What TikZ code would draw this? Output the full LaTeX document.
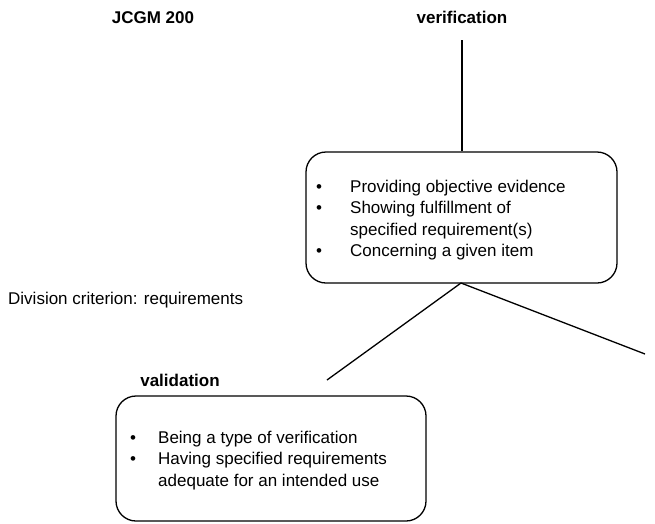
\documentclass[tikz,border=0pt]{standalone}
\usepackage{fontspec}
\setmainfont{Liberation Sans}
\usepackage{array}
\begin{document}
\begin{tikzpicture}[x=1pt,y=-1pt,
  txt/.style={font=\fontsize{17}{21.5}\selectfont, inner sep=0pt},
  ttl/.style={font=\fontsize{17}{21.5}\selectfont\bfseries, inner sep=0pt},
  concept/.style={draw, line width=1.3pt, rounded corners=20pt, inner sep=0pt},
  link/.style={line width=1.3pt}]
\useasboundingbox (0,0) rectangle (655,523);

% headings
\node[ttl, anchor=base] (std) at (153,23) {JCGM 200};
\node[ttl, anchor=base] (ver) at (462,23) {verification};

% concept box for verification
\node[concept, minimum width=311pt, minimum height=131pt] (vbox) at (461.5,217.5) {};
\node[txt, anchor=base west] (vtext) at (316,192) {%
  \begin{tabular}[t]{@{}p{34pt}@{}l@{}}
  \textbullet & Providing objective evidence\\
  \textbullet & Showing fulfillment of\\
              & specified requirement(s)\\
  \textbullet & Concerning a given item
  \end{tabular}};

\coordinate (vtop) at (462,40);
\draw[link] (vtop) -- (vbox.north -| vtop);

% division
\node[txt, anchor=base west] (crit) at (8,304) {Division criterion: requirements};

\coordinate (apex) at (461,283);
\coordinate (lend) at (327,380);
\coordinate (rend) at (645,354);
\draw[link] (lend) -- (apex) -- (rend);

% validation
\node[ttl, anchor=base] (val) at (180,386) {validation};
\node[concept, minimum width=310pt, minimum height=125pt] (valbox) at (271,458.5) {};
\node[txt, anchor=base west] (valtext) at (130,443) {%
  \begin{tabular}[t]{@{}p{28pt}@{}l@{}}
  \textbullet & Being a type of verification\\
  \textbullet & Having specified requirements\\
              & adequate for an intended use
  \end{tabular}};
\end{tikzpicture}
\end{document}
